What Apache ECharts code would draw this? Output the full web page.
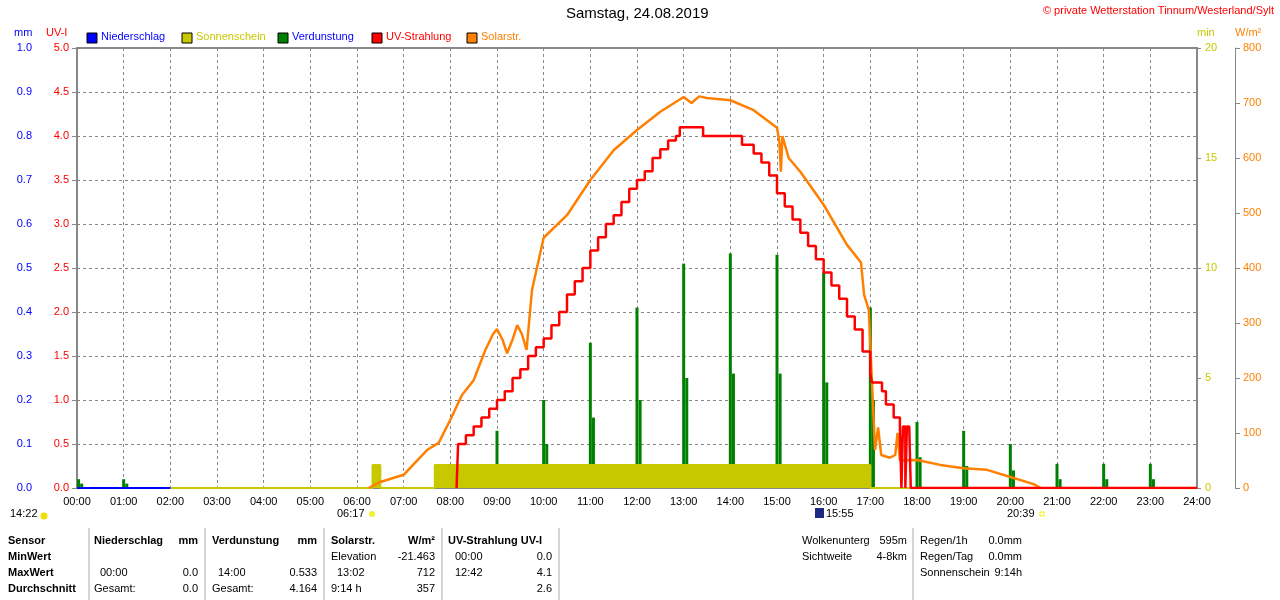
<!DOCTYPE html>
<html>
<head>
<meta charset="utf-8">
<script src="https://cdn.jsdelivr.net/npm/echarts@6/dist/echarts.min.js"></script>
<style>
  html, body { margin: 0; padding: 0; background: #fff; }
  #main { width: 1280px; height: 600px; }
</style>
</head>
<body>
<div id="main"></div>
<script>
// Zeit in Minuten seit 00:00
const hourLabels = ['00:00','01:00','02:00','03:00','04:00','05:00','06:00','07:00','08:00','09:00','10:00','11:00','12:00',
  '13:00','14:00','15:00','16:00','17:00','18:00','19:00','20:00','21:00','22:00','23:00','24:00'];

// Solarstrahlung W/m²
const solarData = [
  [375, 0], [390, 11], [420, 24], [450, 69], [465, 82], [480, 124], [495, 169], [510, 196], [525, 251],
  [535, 280], [540, 289], [547, 270], [553, 245], [560, 270], [566, 296], [572, 280], [578, 251],
  [585, 360], [600, 455], [630, 496], [660, 560], [690, 614], [720, 651], [750, 684], [780, 711],
  [790, 700], [800, 712], [810, 709], [840, 705], [870, 687], [900, 655], [903, 630], [905, 575],
  [907, 640], [915, 600], [930, 575], [960, 515], [990, 442], [1008, 410], [1012, 351], [1018, 324],
  [1022, 196], [1026, 69], [1030, 110], [1034, 60], [1045, 55], [1052, 60], [1055, 100], [1058, 50],
  [1080, 51], [1110, 42], [1140, 36], [1170, 33], [1200, 20], [1230, 7], [1239, 0]
];

// UV-Strahlung UV-I (Stufen)
const uvData = [
  [488, 0], [490, 0.5], [500, 0.6], [510, 0.7], [520, 0.8], [530, 0.9], [540, 1.0], [550, 1.1],
  [560, 1.25], [570, 1.35], [580, 1.5], [590, 1.6], [600, 1.7], [610, 1.85], [620, 2.0], [630, 2.2],
  [640, 2.35], [650, 2.5], [660, 2.7], [670, 2.85], [680, 3.0], [690, 3.1], [700, 3.25], [710, 3.4],
  [720, 3.5], [730, 3.6], [740, 3.75], [750, 3.85], [760, 3.95], [770, 4.0], [775, 4.1], [800, 4.1],
  [805, 4.0], [850, 4.0], [855, 3.9], [870, 3.8], [880, 3.7], [890, 3.55], [900, 3.35], [910, 3.2],
  [920, 3.05], [930, 2.9], [940, 2.75], [950, 2.6], [960, 2.45], [970, 2.3], [980, 2.15], [990, 1.95],
  [1000, 1.8], [1010, 1.55], [1020, 1.3], [1022, 1.2], [1035, 1.1], [1040, 0.95], [1050, 0.8],
  [1058, 0.7], [1060, 0.0], [1062, 0.7], [1065, 0.0], [1067, 0.7], [1070, 0.7], [1072, 0.0], [1440, 0]
];

// Verdunstung mm (Stundenwerte)
const evapData = [
  [2, 0.02], [60, 0.02], [480, 0.05], [540, 0.13], [600, 0.2], [660, 0.33], [720, 0.41], [780, 0.51],
  [840, 0.533], [900, 0.53], [960, 0.49], [1020, 0.41], [1080, 0.15], [1140, 0.13], [1200, 0.1],
  [1260, 0.055], [1320, 0.055], [1380, 0.055]
];
const evapData2 = [
  [6, 0.01], [64, 0.01], [484, 0.02], [544, 0.05], [604, 0.1], [664, 0.16], [724, 0.2], [784, 0.25],
  [844, 0.26], [904, 0.26], [964, 0.24], [1024, 0.2], [1084, 0.07], [1144, 0.05], [1204, 0.04],
  [1264, 0.02], [1324, 0.02], [1384, 0.02]
];

// Sonnenschein min
const sunData = [
  [120, 0], [380, 0], [380, 1.05], [390, 1.05], [390, 0], [460, 0], [460, 1.05], [1020, 1.05], [1020, 0], [1440, 0]
];

// Niederschlag mm
const rainData = [[0, 0], [120, 0]];

const chart = echarts.init(document.getElementById('main'));
const font = 'Liberation Sans';
const gridLine = { show: true, lineStyle: { color: '#888', type: [3, 3], width: 1 } };
const axisGray = { show: true, lineStyle: { color: '#888', width: 1 } };

const tableRows = [
  { y: 542, items: [['Sensor', 8, true], ['Niederschlag', 94, true], ['mm', 198, true, 'right'], ['Verdunstung', 212, true], ['mm', 317, true, 'right'],
    ['Solarstr.', 331, true], ['W/m²', 435, true, 'right'], ['UV-Strahlung UV-I', 448, true], ['Wolkenunterg', 802], ['595m', 907, false, 'right'], ['Regen/1h', 920], ['0.0mm', 1022, false, 'right']] },
  { y: 558, items: [['MinWert', 8, true], ['Elevation', 331], ['-21.463', 435, false, 'right'], ['00:00', 455], ['0.0', 552, false, 'right'],
    ['Sichtweite', 802], ['4-8km', 907, false, 'right'], ['Regen/Tag', 920], ['0.0mm', 1022, false, 'right']] },
  { y: 574, items: [['MaxWert', 8, true], ['00:00', 100], ['0.0', 198, false, 'right'], ['14:00', 218], ['0.533', 317, false, 'right'],
    ['13:02', 337], ['712', 435, false, 'right'], ['12:42', 455], ['4.1', 552, false, 'right'], ['Sonnenschein', 920], ['9:14h', 1022, false, 'right']] },
  { y: 590, items: [['Durchschnitt', 8, true], ['Gesamt:', 94], ['0.0', 198, false, 'right'], ['Gesamt:', 212], ['4.164', 317, false, 'right'],
    ['9:14 h', 331], ['357', 435, false, 'right'], ['2.6', 552, false, 'right']] }
];
const graphics = [];
tableRows.forEach(r => r.items.forEach(it => {
  graphics.push({ type: 'text', position: [it[1], r.y - 7],
    style: { text: it[0], font: (it[2] ? 'bold ' : '') + '11px ' + font, fill: '#000', textAlign: it[3] === 'right' ? 'right' : 'left' } });
}));
[89, 205, 324, 442, 559, 913].forEach(x => graphics.push({ type: 'line', shape: { x1: x, y1: 528, x2: x, y2: 600 }, style: { stroke: '#aaa', lineWidth: 1 } }));
// Sonnenzeiten unter der Achse
graphics.push(
  { type: 'text', left: 10, top: 508, style: { text: '14:22', font: '11px ' + font, fill: '#000' } },
  { type: 'circle', shape: { cx: 44, cy: 516, r: 3.5 }, style: { fill: '#f0e000' } },
  { type: 'text', left: 337, top: 508, style: { text: '06:17', font: '11px ' + font, fill: '#000' } },
  { type: 'circle', shape: { cx: 372, cy: 514, r: 3 }, style: { fill: '#f5ef30' } },
  { type: 'rect', shape: { x: 815, y: 508, width: 9, height: 10 }, style: { fill: '#1a2a80' } },
  { type: 'text', left: 826, top: 508, style: { text: '15:55', font: '11px ' + font, fill: '#000' } },
  { type: 'text', left: 1007, top: 508, style: { text: '20:39', font: '11px ' + font, fill: '#000' } },
  { type: 'rect', shape: { x: 1040, y: 512, width: 4, height: 4 }, style: { fill: 'none', stroke: '#f0f000' } },
  { type: 'text', left: 566, top: 6, style: { text: 'Samstag, 24.08.2019', font: '15px ' + font, fill: '#000' } },
  { type: 'text', right: 6, top: 5, style: { text: '© private Wetterstation Tinnum/Westerland/Sylt', font: '11px ' + font, fill: '#ff0000' } },
  { type: 'text', left: 14, top: 27, style: { text: 'mm', font: '11px ' + font, fill: '#0000ff' } },
  { type: 'text', left: 46, top: 27, style: { text: 'UV-I', font: '11px ' + font, fill: '#ff0000' } },
  { type: 'text', left: 1197, top: 27, style: { text: 'min', font: '11px ' + font, fill: '#c8c800' } },
  { type: 'text', left: 1235, top: 27, style: { text: 'W/m²', font: '11px ' + font, fill: '#ff8000' } }
);
const legendItems = [['Niederschlag', '#0000ff', '#0000ff', 87], ['Sonnenschein', '#c8c800', '#c8c800', 182], ['Verdunstung', '#008000', '#0000ff', 278],
  ['UV-Strahlung', '#ff0000', '#ff0000', 372], ['Solarstr.', '#ff8000', '#ff8000', 467]];
legendItems.forEach(l => {
  graphics.push({ type: 'rect', shape: { x: l[3], y: 33, width: 10, height: 10 }, style: { fill: l[1], stroke: '#000', lineWidth: 1 } });
  graphics.push({ type: 'text', left: l[3] + 14, top: 31, style: { text: l[0], font: '11px ' + font, fill: l[2] } });
});

const option = {
  animation: false,
  backgroundColor: '#fff',
  textStyle: { fontFamily: font },
  grid: { left: 77, right: 83, top: 48, bottom: 112, show: true, borderColor: '#888', borderWidth: 2 },
  xAxis: {
    type: 'value', min: 0, max: 1440, interval: 60,
    axisLine: { show: false }, axisTick: { show: false },
    splitLine: gridLine,
    axisLabel: { color: '#000', fontSize: 11, margin: 8, formatter: v => hourLabels[v / 60] }
  },
  yAxis: [
    { type: 'value', min: 0, max: 1.0, interval: 0.1, position: 'left', offset: 37,
      axisLine: axisGray, axisTick: { show: true, length: 5, lineStyle: { color: '#888' } }, splitLine: { show: false },
      axisLabel: { color: '#0000ff', fontSize: 11, formatter: v => v.toFixed(1) } },
    { type: 'value', min: 0, max: 5, interval: 0.5, position: 'left',
      axisLine: { show: false }, axisTick: { show: true, length: 4, lineStyle: { color: '#888' } }, splitLine: gridLine,
      axisLabel: { color: '#ff0000', fontSize: 11, formatter: v => v.toFixed(1) } },
    { type: 'value', min: 0, max: 20, interval: 5, position: 'right',
      axisLine: { show: false }, axisTick: { show: true, length: 4, lineStyle: { color: '#888' } }, splitLine: { show: false },
      axisLabel: { color: '#c8c800', fontSize: 11 } },
    { type: 'value', min: 0, max: 800, interval: 100, position: 'right', offset: 38,
      axisLine: axisGray, axisTick: { show: true, length: 5, lineStyle: { color: '#888' } }, splitLine: { show: false },
      axisLabel: { color: '#ff8000', fontSize: 11 } }
  ],
  graphic: graphics,
  series: [
    { name: 'Sonnenschein', type: 'line', yAxisIndex: 2, data: sunData, symbol: 'none',
      lineStyle: { color: '#c8c800', width: 2 }, areaStyle: { color: '#c8c800', opacity: 1 } },
    { name: 'Niederschlag', type: 'line', yAxisIndex: 0, data: rainData, symbol: 'none', lineStyle: { color: '#0000ff', width: 2 } },
    { name: 'Verdunstung', type: 'bar', yAxisIndex: 0, data: evapData, barWidth: 3, barGap: '-100%', itemStyle: { color: '#008000' } },
    { name: 'Verdunstung2', type: 'bar', yAxisIndex: 0, data: evapData2, barWidth: 3, itemStyle: { color: '#008000' } },
    { name: 'Solarstr.', type: 'line', yAxisIndex: 3, data: solarData, symbol: 'none', lineStyle: { color: '#ff8000', width: 2.5 } },
    { name: 'UV-Strahlung', type: 'line', yAxisIndex: 1, data: uvData, symbol: 'none', step: 'end', lineStyle: { color: '#ff0000', width: 2.5 } }
  ]
};
chart.setOption(option);
</script>
</body>
</html>
